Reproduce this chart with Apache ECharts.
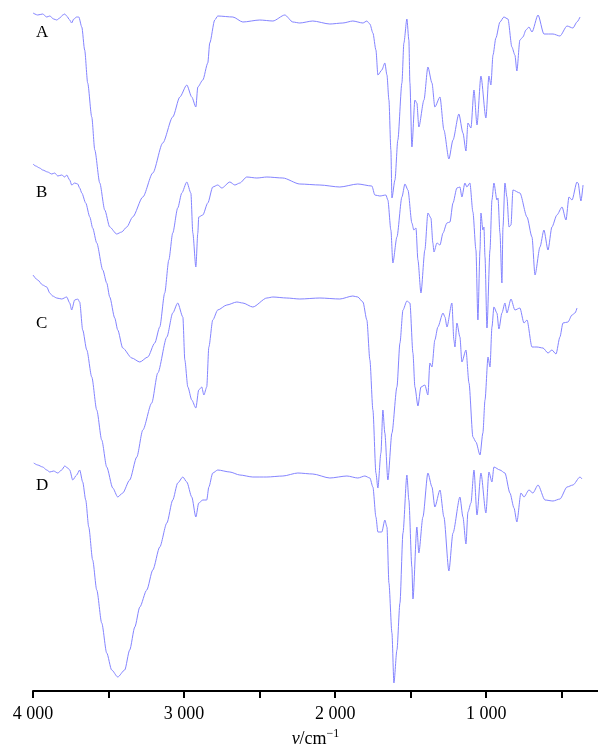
<!DOCTYPE html>
<html><head><meta charset="utf-8">
<script src="https://cdn.jsdelivr.net/npm/echarts@6/dist/echarts.min.js"></script>
<style>html,body{margin:0;padding:0;background:#fff}#c{width:598px;height:747px}</style>
</head><body><div id="c"></div>
<script>
// wavenumber (cm-1), stacked signal (a.u.)
const spectrumA = [[4000,679],[3969,677],[3936,678],[3909,675],[3889,676],[3863,673],[3843,672],[3823,674],[3803,677],[3790,678],[3777,676],[3757,672],[3744,669],[3730,673],[3711,675],[3697,675],[3677,665],[3658,642],[3638,609],[3611,575],[3591,542],[3558,509],[3525,482],[3492,465],[3446,458],[3413,460],[3379,465],[3340,475],[3273,495],[3207,519],[3141,549],[3075,575],[3028,595],[2982,607],[2949,595],[2922,585],[2909,605],[2876,612],[2843,629],[2830,649],[2797,672],[2777,676],[2677,675],[2611,670],[2499,672],[2412,671],[2333,677],[2280,670],[2234,669],[2148,671],[2035,668],[1949,669],[1883,671],[1816,669],[1790,671],[1770,668],[1750,659],[1730,642],[1717,617],[1691,622],[1671,629],[1657,617],[1644,592],[1631,542],[1624,494],[1604,512],[1585,552],[1558,609],[1545,649],[1525,673],[1512,652],[1505,609],[1492,545],[1472,592],[1459,589],[1446,565],[1412,592],[1386,625],[1359,609],[1340,585],[1306,595],[1280,562],[1247,533],[1220,552],[1181,578],[1154,559],[1134,541],[1121,569],[1101,564],[1081,602],[1061,567],[1035,616],[1002,574],[982,616],[969,607],[955,637],[936,654],[909,670],[883,675],[856,673],[830,645],[810,637],[797,621],[777,652],[757,655],[737,662],[717,665],[697,660],[657,677],[618,658],[558,658],[512,656],[465,666],[426,664],[399,670],[379,675]];
const spectrumB = [[4000,528],[3982,526],[3956,524],[3936,522],[3903,520],[3876,518],[3856,519],[3836,516],[3810,517],[3790,515],[3777,517],[3757,512],[3744,507],[3724,509],[3704,508],[3691,504],[3677,499],[3651,489],[3624,475],[3605,464],[3578,449],[3538,422],[3512,409],[3492,395],[3459,374],[3439,362],[3406,344],[3346,334],[3293,330],[3240,335],[3194,349],[3161,365],[3128,399],[3101,432],[3075,459],[3042,484],[3015,499],[2982,510],[2955,499],[2942,459],[2922,425],[2909,459],[2903,475],[2876,477],[2843,489],[2810,505],[2777,507],[2750,504],[2697,510],[2664,507],[2631,509],[2585,515],[2518,514],[2452,515],[2346,514],[2234,508],[2101,507],[1969,505],[1850,508],[1757,506],[1737,497],[1704,496],[1664,497],[1651,492],[1631,462],[1618,429],[1591,455],[1558,495],[1538,508],[1518,502],[1492,469],[1479,462],[1465,464],[1452,432],[1432,399],[1406,442],[1386,479],[1366,474],[1353,449],[1346,440],[1326,449],[1306,447],[1286,459],[1260,469],[1240,470],[1220,489],[1194,504],[1174,505],[1161,495],[1141,509],[1128,505],[1108,509],[1088,480],[1068,442],[1055,372],[1041,442],[1035,479],[1022,462],[1015,465],[1008,435],[995,364],[975,442],[962,492],[949,509],[929,492],[922,494],[909,459],[896,409],[889,465],[876,509],[863,495],[849,465],[836,467],[823,502],[777,499],[730,475],[697,455],[677,417],[644,445],[618,462],[591,442],[565,465],[532,477],[498,485],[472,472],[452,495],[432,492],[399,510],[392,509],[373,491],[359,507]];
const spectrumC = [[4000,417],[3969,412],[3936,407],[3909,405],[3889,399],[3870,396],[3843,394],[3810,393],[3777,395],[3757,389],[3744,382],[3724,392],[3704,393],[3691,390],[3671,362],[3644,342],[3611,315],[3578,282],[3545,252],[3512,225],[3472,204],[3439,195],[3406,199],[3360,212],[3313,235],[3273,262],[3214,289],[3174,319],[3114,355],[3075,379],[3042,389],[3008,375],[2995,332],[2975,305],[2949,292],[2922,284],[2903,302],[2883,305],[2869,297],[2850,305],[2836,345],[2810,372],[2777,382],[2717,387],[2651,390],[2611,389],[2545,385],[2452,394],[2412,395],[2320,394],[2234,393],[2101,394],[1969,393],[1883,396],[1850,395],[1816,390],[1790,372],[1770,332],[1750,282],[1730,219],[1717,204],[1697,239],[1684,282],[1671,259],[1651,212],[1624,259],[1591,305],[1571,349],[1551,382],[1525,391],[1505,389],[1485,339],[1472,305],[1452,286],[1432,305],[1406,307],[1386,297],[1373,329],[1359,325],[1340,352],[1320,365],[1286,379],[1273,375],[1260,365],[1227,389],[1214,352],[1207,345],[1194,369],[1174,355],[1161,330],[1134,342],[1114,309],[1088,255],[1068,250],[1041,237],[1022,259],[1008,292],[988,335],[975,325],[962,365],[949,385],[929,379],[916,363],[896,379],[876,389],[863,379],[836,393],[810,382],[777,384],[750,369],[730,372],[697,345],[664,345],[624,344],[591,339],[565,342],[538,338],[512,355],[492,369],[459,370],[432,377],[412,379],[399,384]];
const spectrumD = [[3995,229],[3969,227],[3936,225],[3909,222],[3889,220],[3863,221],[3836,219],[3810,222],[3790,226],[3770,224],[3757,222],[3737,212],[3711,217],[3691,222],[3671,210],[3651,192],[3631,165],[3605,132],[3578,102],[3545,69],[3512,39],[3479,22],[3439,15],[3393,22],[3360,42],[3326,65],[3293,85],[3247,102],[3207,122],[3161,145],[3114,169],[3075,192],[3042,209],[3008,215],[2982,210],[2949,195],[2922,175],[2903,189],[2876,192],[2850,192],[2836,205],[2810,219],[2777,222],[2697,220],[2631,217],[2545,215],[2452,215],[2346,216],[2247,219],[2148,218],[2035,214],[1922,216],[1850,214],[1803,216],[1770,214],[1750,205],[1730,175],[1717,160],[1691,160],[1671,172],[1657,165],[1644,109],[1624,59],[1611,9],[1591,42],[1571,89],[1551,159],[1525,217],[1512,192],[1492,125],[1485,93],[1459,165],[1446,139],[1419,175],[1386,219],[1359,205],[1340,185],[1306,202],[1280,175],[1247,121],[1220,159],[1174,195],[1154,175],[1134,148],[1121,180],[1101,189],[1081,222],[1061,177],[1035,219],[1002,179],[982,220],[962,210],[949,225],[909,222],[876,219],[843,199],[816,184],[797,170],[770,199],[750,195],[717,202],[691,199],[657,207],[611,192],[558,191],[512,193],[465,205],[426,207],[379,215],[366,213]];
const sampleNames = ['A','B','C','D'];
const tickValues = [4000,3500,3000,2500,2000,1500,1000,500];
const labelValues = [4000,3000,2000,1000];

const chart = echarts.init(document.getElementById('c'), null, {renderer:'canvas'});
const serif = "'Liberation Serif','DejaVu Serif',serif";
const lineColor = '#8484ff';
const spectra = [spectrumA, spectrumB, spectrumC, spectrumD];
const labelTops = [24, 184, 315, 477];
chart.setOption({
  animation:false,
  backgroundColor:'#fff',
  grid:{left:33, right:0, top:0, bottom:56, containLabel:false, outerBoundsMode:'none'},
  xAxis:{
    type:'value', inverse:true, min:260, max:4000,
    splitLine:{show:false},
    axisLine:{show:true, lineStyle:{color:'#000', width:2}},
    axisTick:{show:true, inside:false, length:7, lineStyle:{color:'#000', width:2}, customValues:tickValues},
    axisLabel:{customValues:labelValues, margin:14, color:'#000', fontSize:18, fontFamily:serif,
      formatter:v=>v>=1000?(Math.floor(v/1000)+' '+String(v%1000).padStart(3,'0')):String(v)},
    name:'{i|v}{n|/cm}{s|−1}', nameLocation:'middle', nameGap:36,
    nameTextStyle:{color:'#000', fontFamily:serif, fontSize:18,
      rich:{i:{fontStyle:'italic',fontFamily:serif,fontSize:18,color:'#000'},
            n:{fontFamily:serif,fontSize:18,color:'#000'},
            s:{fontFamily:serif,fontSize:12,color:'#000',padding:[0,0,10,0]}}}
  },
  yAxis:{type:'value', min:1, max:692, show:false},
  graphic: sampleNames.map((t,i)=>({type:'text', left:36, top:labelTops[i],
    style:{text:t, fill:'#000', font:'17px '+serif}})),
  series: spectra.map((d,i)=>({
    name:sampleNames[i], type:'line', data:d, showSymbol:false, symbol:'none',
    smooth:0.25, smoothMonotone:'x',
    lineStyle:{color:lineColor, width:1}, silent:true
  }))
});
</script></body></html>
